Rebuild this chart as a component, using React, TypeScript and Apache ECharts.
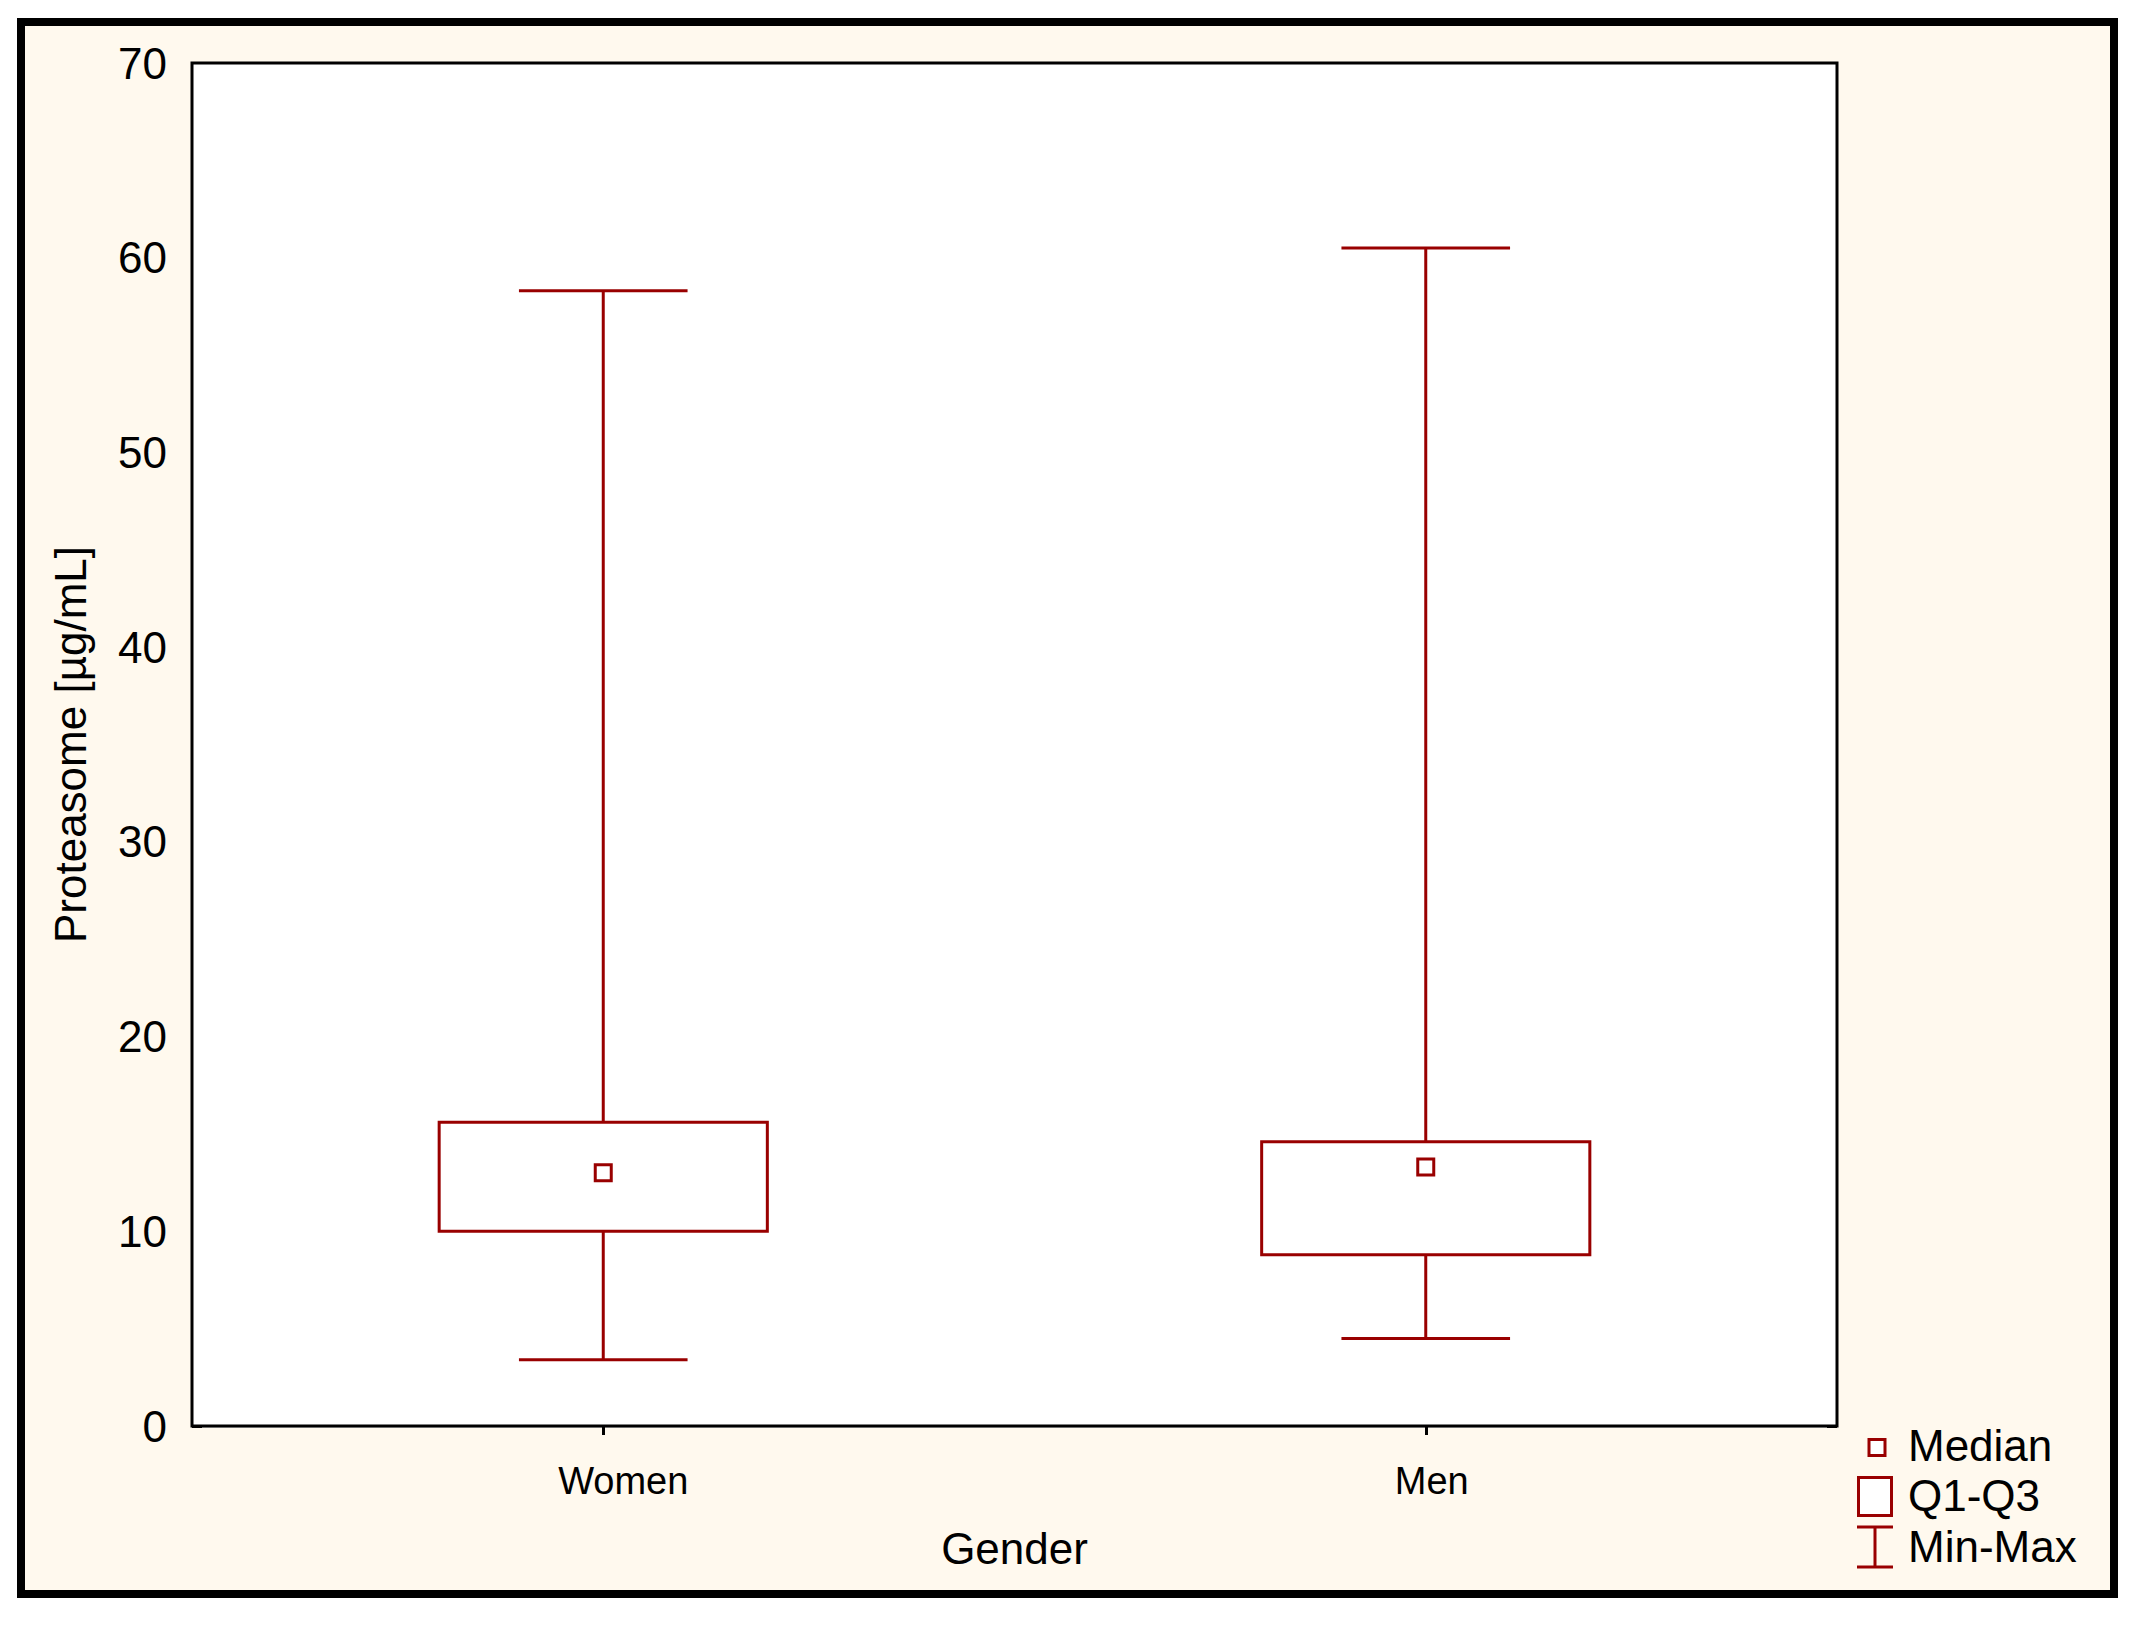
import React, { useEffect, useRef } from "react";
import * as echarts from "echarts";

const categories = ["Women", "Men"];
const minValues = [3.4, 4.5];
const q1Values = [10.0, 8.8];
const medianValues = [13.0, 13.3];
const q3Values = [15.6, 14.6];
const maxValues = [58.3, 60.5];
const yMin = 0;
const yMax = 70;
const yInterval = 10;
const xAxisTitle = "Gender";
const yAxisTitle = "Proteasome [µg/mL]";
const legendLabels = ["Median", "Q1-Q3", "Min-Max"];

const RED = "#990000";
const FONT = "'Liberation Sans', Arial, sans-serif";

export default function App() {
  const ref = useRef<HTMLDivElement>(null);
  useEffect(() => {
    if (!ref.current) return;
    const chart = echarts.init(ref.current, undefined, { renderer: "svg" });
    const boxData = categories.map((_, i) => [
      i,
      minValues[i],
      q1Values[i],
      medianValues[i],
      q3Values[i],
      maxValues[i],
    ]);
    const medianData = categories.map((c, i) => [c, medianValues[i]]);

    const option: any = {
      animation: false,
      backgroundColor: "#ffffff",
      textStyle: { fontFamily: FONT, color: "#000" },
      graphic: {
        elements: [
          {
            type: "rect",
            z: -100,
            silent: true,
            shape: { x: 21, y: 22, width: 2093, height: 1572 },
            style: { fill: "#FFF9EE", stroke: "#000", lineWidth: 8 },
          },
          // legend
          {
            type: "rect",
            z: 100,
            shape: { x: 1869, y: 1439.5, width: 16, height: 16 },
            style: { fill: "#fff", stroke: RED, lineWidth: 3 },
          },
          {
            type: "rect",
            z: 100,
            shape: { x: 1858.5, y: 1477.5, width: 33, height: 38 },
            style: { fill: "#fff", stroke: RED, lineWidth: 3 },
          },
          {
            type: "line",
            z: 100,
            shape: { x1: 1857, y1: 1527, x2: 1893, y2: 1527 },
            style: { stroke: RED, lineWidth: 3 },
          },
          {
            type: "line",
            z: 100,
            shape: { x1: 1857, y1: 1567, x2: 1893, y2: 1567 },
            style: { stroke: RED, lineWidth: 3 },
          },
          {
            type: "line",
            z: 100,
            shape: { x1: 1875, y1: 1527, x2: 1875, y2: 1567 },
            style: { stroke: RED, lineWidth: 3 },
          },
          ...legendLabels.map((t, i) => ({
            type: "text",
            z: 100,
            x: 1908,
            y: [1445, 1495, 1546][i],
            style: {
              text: t,
              fill: "#000",
              font: `44px ${FONT}`,
              textVerticalAlign: "middle",
              textAlign: "left",
            },
          })),
        ],
      },
      grid: {
        left: 192,
        top: 63,
        right: 2132 - 1837,
        bottom: 1630 - 1426,
        show: true,
        backgroundColor: "#ffffff",
        borderColor: "#000",
        borderWidth: 3,
        z: 1,
      },
      xAxis: [
        {
          type: "category",
          data: categories,
          boundaryGap: true,
          position: "bottom",
          axisLine: { show: false },
          axisTick: {
            show: true,
            inside: true,
            alignWithLabel: true,
            length: 9,
            lineStyle: { color: "#000", width: 3 },
          },
          axisLabel: {
            fontSize: 38,
            color: "#000",
            margin: 36,
            fontFamily: FONT,
            formatter: (v: string) => (v === "Women" ? `{w|${v}}` : `{m|${v}}`),
            rich: {
              w: { fontSize: 38, fontFamily: FONT, color: "#000", padding: [0, 0, 0, 40] },
              m: { fontSize: 38, fontFamily: FONT, color: "#000", padding: [0, 0, 0, 12] },
            },
          },
          name: xAxisTitle,
          nameLocation: "middle",
          nameGap: 100,
          nameTextStyle: { fontSize: 44, color: "#000", fontFamily: FONT },
        },
        {
          type: "category",
          data: categories,
          boundaryGap: true,
          position: "top",
          axisLine: { show: false },
          axisTick: {
            show: true,
            inside: true,
            alignWithLabel: true,
            length: 9,
            lineStyle: { color: "#000", width: 3 },
          },
          axisLabel: { show: false },
        },
      ],
      yAxis: [
        {
          type: "value",
          min: yMin,
          max: yMax,
          interval: yInterval,
          position: "left",
          axisLine: { show: false },
          axisTick: {
            show: true,
            inside: true,
            length: 10,
            lineStyle: { color: "#000", width: 3 },
          },
          axisLabel: {
            fontSize: 44,
            color: "#000",
            margin: 25,
            fontFamily: FONT,
          },
          splitLine: { show: true, lineStyle: { color: "#d9d9d9", width: 3 } },
          name: yAxisTitle,
          nameLocation: "middle",
          nameGap: 100,
          nameTextStyle: { fontSize: 44, color: "#000", fontFamily: FONT },
        },
        {
          type: "value",
          min: yMin,
          max: yMax,
          interval: yInterval,
          position: "right",
          axisLine: { show: false },
          axisTick: {
            show: true,
            inside: true,
            length: 10,
            lineStyle: { color: "#000", width: 3 },
          },
          axisLabel: { show: false },
          splitLine: { show: false },
        },
      ],
      series: [
        {
          type: "custom",
          xAxisIndex: 0,
          yAxisIndex: 0,
          z: 5,
          data: boxData,
          encode: { x: 0, y: [1, 2, 4, 5] },
          renderItem: (params: any, api: any) => {
            const idx = api.value(0);
            const pMin = api.coord([idx, api.value(1)]);
            const pQ1 = api.coord([idx, api.value(2)]);
            const pQ3 = api.coord([idx, api.value(4)]);
            const pMax = api.coord([idx, api.value(5)]);
            const band = api.size([1, 0])[0];
            const bw = band * 0.399;
            const cw = band * 0.205;
            const cx = pMin[0];
            const ls = { stroke: RED, lineWidth: 3, fill: "none" };
            return {
              type: "group",
              children: [
                {
                  type: "line",
                  shape: { x1: cx, y1: pQ3[1], x2: cx, y2: pMax[1] },
                  style: ls,
                },
                {
                  type: "line",
                  shape: { x1: cx, y1: pQ1[1], x2: cx, y2: pMin[1] },
                  style: ls,
                },
                {
                  type: "line",
                  shape: { x1: cx - cw / 2, y1: pMax[1], x2: cx + cw / 2, y2: pMax[1] },
                  style: ls,
                },
                {
                  type: "line",
                  shape: { x1: cx - cw / 2, y1: pMin[1], x2: cx + cw / 2, y2: pMin[1] },
                  style: ls,
                },
                {
                  type: "rect",
                  shape: { x: cx - bw / 2, y: pQ3[1], width: bw, height: pQ1[1] - pQ3[1] },
                  style: { stroke: RED, lineWidth: 3, fill: "#ffffff" },
                },
              ],
            };
          },
        },
        {
          type: "scatter",
          xAxisIndex: 0,
          yAxisIndex: 0,
          z: 6,
          symbol: "rect",
          symbolSize: 16,
          data: medianData,
          itemStyle: { color: "#ffffff", borderColor: RED, borderWidth: 3, opacity: 1 },
        },
      ],
    };
    chart.setOption(option);
    return () => chart.dispose();
  }, []);

  return (
    <div
      ref={ref}
      style={{ position: "absolute", left: 0, top: 0, width: 2132, height: 1630 }}
    />
  );
}
